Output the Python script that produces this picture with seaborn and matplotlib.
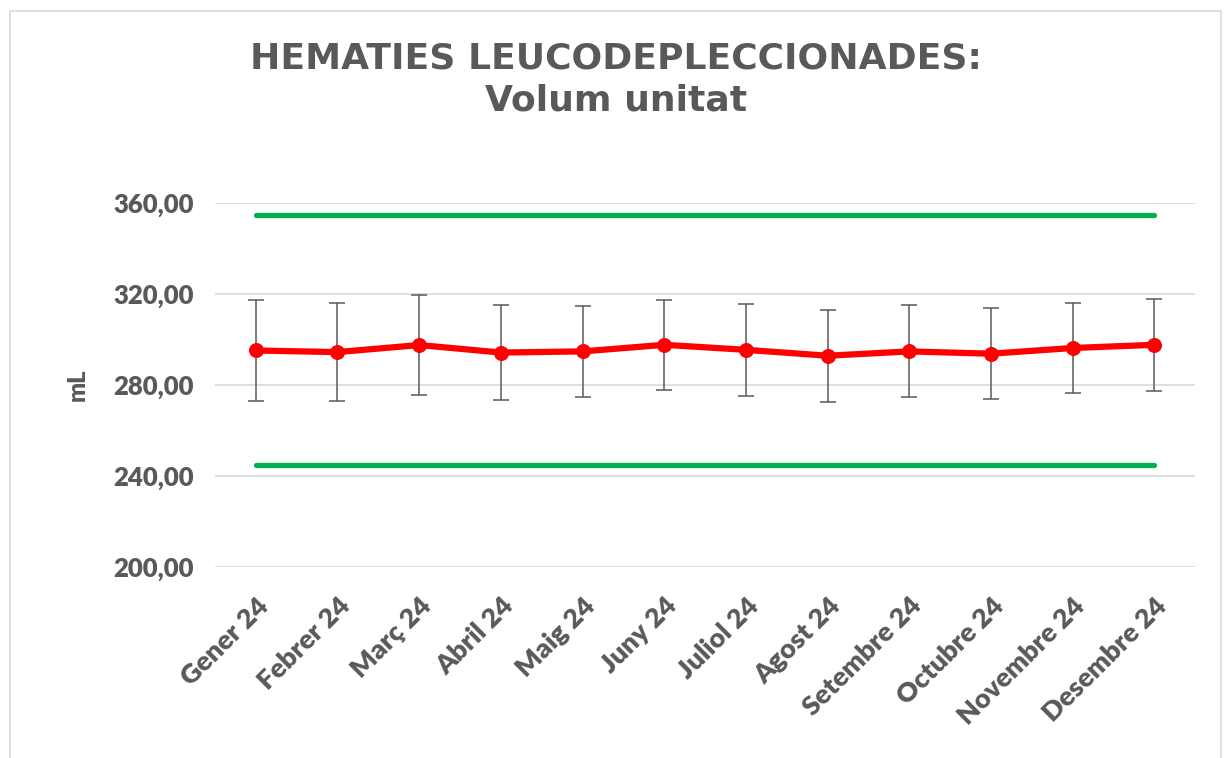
"""
Hematies leucodeplecionades: volum unitat per mes (mitjana ± DE)
"""
import numpy as np
import pandas as pd
import matplotlib
matplotlib.use('Agg')
import matplotlib.pyplot as plt
from matplotlib.patches import Rectangle
import seaborn as sns

# dades llegides del gràfic
mesos = ['Gener 24', 'Febrer 24', 'Març 24', 'Abril 24', 'Maig 24', 'Juny 24',
         'Juliol 24', 'Agost 24', 'Setembre 24', 'Octubre 24', 'Novembre 24', 'Desembre 24']
volum_mitja = [295.2, 294.5, 297.6, 294.3, 294.8, 297.7, 295.5, 292.9, 294.8, 293.8, 296.3, 297.7]
volum_de = [22.2, 21.5, 22.0, 20.7, 20.0, 19.9, 20.3, 20.2, 20.2, 19.9, 19.6, 20.3]
limit_superior = [355.0] * len(mesos)
limit_inferior = [245.0] * len(mesos)
y_ticks = [200, 240, 280, 320, 360]

GRIS = '#595959'
VERD = '#00B050'
VERMELL = '#FF0000'

sns.set_style('white')
plt.rcParams['font.family'] = ['Lato', 'DejaVu Sans']

df = pd.DataFrame({
    'x': np.arange(len(mesos)),
    'mes': mesos,
    'mitja': volum_mitja,
    'de': volum_de,
    'sup': limit_superior,
    'inf': limit_inferior,
})

fig = plt.figure(figsize=(12.32, 7.58), dpi=100)
ax = fig.add_axes([0.1745, 0.252, 0.7955, 0.48])

# vora del gràfic
fig.patches.append(Rectangle((0.008, -0.01), 0.983, 0.9955, transform=fig.transFigure,
                             fill=False, edgecolor='#D9D9D9', linewidth=1.2, zorder=0))

sns.lineplot(data=df, x='x', y='sup', color=VERD, linewidth=3.8, ax=ax, zorder=2)
sns.lineplot(data=df, x='x', y='inf', color=VERD, linewidth=3.8, ax=ax, zorder=2)

ax.errorbar(df['x'], df['mitja'], yerr=df['de'], fmt='none', ecolor=GRIS,
            elinewidth=1.1, capsize=5.5, capthick=1.1, zorder=3)
sns.lineplot(data=df, x='x', y='mitja', color=VERMELL, linewidth=4.5, marker='o',
             markersize=10, markeredgecolor=VERMELL, ax=ax, zorder=4)

ax.set_xlim(-0.5, len(mesos) - 0.5)
ax.set_ylim(200, 360)
ax.set_yticks(y_ticks)
ax.set_yticklabels([f'{v:.2f}'.replace('.', ',') for v in y_ticks],
                   fontsize=18.5, fontweight='heavy', color=GRIS)
ax.set_xticks(df['x'])
ax.set_xticklabels(mesos, rotation=45, ha='right', rotation_mode='anchor',
                   fontsize=19.5, fontweight='heavy', color=GRIS)
ax.tick_params(axis='y', length=0, pad=15)
ax.tick_params(axis='x', length=0, pad=19)

ax.yaxis.grid(True, color='#D9D9D9', linewidth=1.2, zorder=0)
ax.xaxis.grid(False)
ax.set_axisbelow(True)
for s in ax.spines.values():
    s.set_visible(False)

ax.set_xlabel('')
ax.set_ylabel('mL', fontsize=17, fontweight='heavy', color=GRIS, labelpad=18)

fig.text(0.5, 0.895, 'HEMATIES LEUCODEPLECCIONADES:\nVolum unitat', ha='center', va='center',
         fontsize=26, fontweight='bold', color=GRIS, linespacing=1.3,
         family=['DejaVu Sans'])

fig.savefig('out.png', dpi=100)
